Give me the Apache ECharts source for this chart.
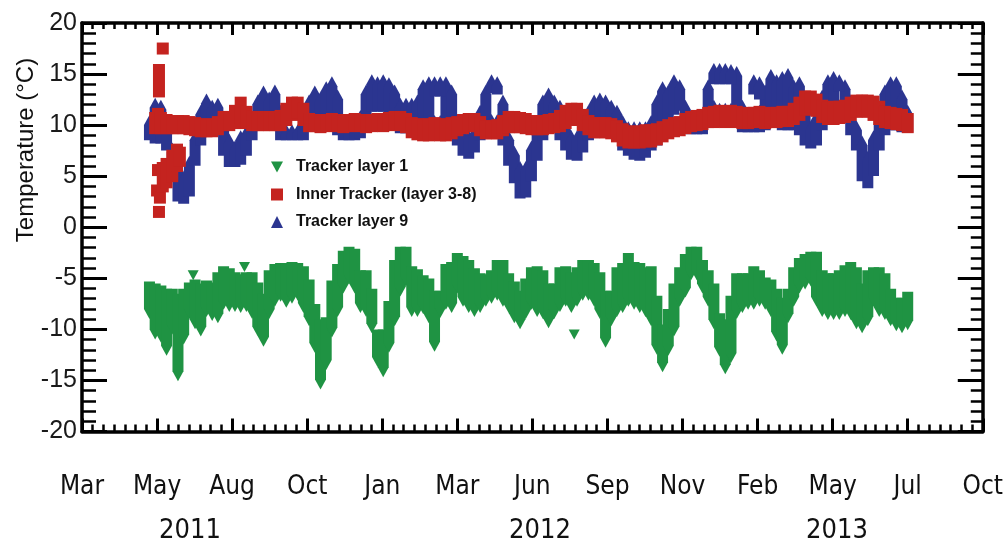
<!DOCTYPE html>
<html>
<head>
<meta charset="utf-8">
<script src="https://cdn.jsdelivr.net/npm/echarts@6/dist/echarts.min.js"></script>
<style>
  html, body { margin: 0; padding: 0; background: #ffffff; }
  #chart { width: 1006px; height: 543px; }
</style>
</head>
<body>
<div id="chart"></div>
<script>
// x axis: days since 2011-03-01, one labelled tick every 79 days
const tickLabels = ['Mar', 'May', 'Aug', 'Oct', 'Jan', 'Mar', 'Jun', 'Sep', 'Nov', 'Feb', 'May', 'Jul', 'Oct'];
const yearLabels = ['2011', '2012', '2013'];
const TICK_DAYS = 79;

// Each sample is the spread (lowest / highest reading) over a 6-day window
const SAMPLE_STEP = 6;

// Tracker layer 1 (°C), first window starts on day 71
const layer1Start = 71;
const layer1Low = [
  -8.5, -10.5, -10.8, -12.1, -10, -14.6, -11, -8.5, -9.5, -10.2,
  -8.3, -8.7, -8.9, -7.6, -7.8, -7.8, -7.9, -7.8, -8.5, -10.2,
  -11.2, -8.5, -7.3, -6.8, -7.4, -7.0, -6.7, -7.9, -9.2, -11.8,
  -15.4, -13.5, -10.3, -8.3, -6.0, -5.1, -6, -7.9, -8.3, -9.9,
  -13.2, -14.2, -11.8, -9.2, -6.3, -5.3, -8.3, -8.3, -8.0, -8.9,
  -11.7, -8.4, -7.6, -7.9, -6.0, -7.3, -7.9, -8.3, -7.9, -7.3,
  -7.0, -6.7, -7.3, -7.9, -8.9, -9.5, -8.5, -7.6, -8.3, -8.5,
  -9.4, -8.5, -7.8, -7.3, -7.9, -7.3, -6.7, -6.7, -7.3, -8.5,
  -11.3, -9.2, -8.3, -7.9, -7.3, -7.6, -7.9, -8.3, -9.2, -12,
  -13.7, -12.1, -10.2, -7.3, -6.4, -4.7, -4.7, -6, -7.3, -9.5,
  -12.2, -13.9, -12.8, -8.5, -7.9, -7.6, -7.6, -7.3, -7.6, -8.3,
  -10.7, -12, -8.9, -7.3, -6, -5.6, -5.3, -7.3, -8.3, -8.6,
  -8.6, -8.6, -8.3, -8.6, -9.5, -9.9, -9.2, -7.3, -8.3, -8.6,
  -9.2, -9.7, -9.9, -9.6
];
const layer1High = [
  -5.8, -6, -6.2, -6.5, -6.5, -7, -6.5, -5.9, -5.6, -6,
  -5.7, -5.9, -4.9, -4.3, -4.5, -4.9, -5.1, -4.9, -4.9, -5.9,
  -7, -4.7, -4.1, -4.0, -4.0, -3.9, -4.0, -4.3, -5.6, -8,
  -9.5, -9.3, -5.7, -4.1, -2.8, -2.4, -2.6, -4.7, -4.7, -6.5,
  -10.5, -10.5, -7.7, -3.7, -2.4, -2.4, -4.3, -4.6, -5.2, -5.5,
  -6.7, -6.7, -4.1, -3.9, -3.0, -3.3, -3.7, -4.5, -5, -5.1,
  -4.7, -3.7, -3.7, -5, -5.8, -6.7, -5.5, -4.4, -4.3, -4.7,
  -6, -6, -4.4, -4.3, -4.9, -4.4, -3.7, -3.7, -4, -4.9,
  -6.7, -6.7, -4.4, -4.0, -3.0, -3.9, -4, -4.4, -4.3, -7.2,
  -10, -8.5, -6, -4.4, -3.1, -2.4, -2.4, -3.7, -4.7, -6,
  -8.9, -9.5, -7.2, -5, -5, -5, -4.3, -4.7, -5.4, -5.6,
  -6.5, -7.4, -6.5, -4.4, -3.5, -3.1, -2.9, -2.9, -4.7, -5,
  -5, -4.7, -4.2, -3.9, -4.4, -6, -4.7, -4.4, -4.4, -5,
  -6.5, -7.4, -7.4, -6.8
];
// isolated single readings [day, °C]
const layer1Single = [[117, -4.7], [171, -3.9], [518, -10.5]];

// Tracker layer 9 (°C), first window starts on day 71
const layer9Start = 71;
const layer9Low = [
  9, 8.7, 8.7, 8, 5, 3, 2.8, 3.5, 6.5, 8.5,
  10, 10, 10.4, 7.5, 6.4, 6.4, 6.6, 7.5, 9, 10.5,
  11.2, 11.4, 11.4, 9.0, 9.0, 9.0, 9.0, 9.0, 10.5, 11.4,
  11.4, 11.6, 11.6, 9.5, 9.0, 9.0, 9.0, 9.2, 11, 11.8,
  11.8, 11.8, 11.6, 10, 9.7, 9.7, 9.7, 9.8, 10.5, 10.9,
  10.1, 10.1, 10.5, 10, 8.5, 7.5, 7.2, 7.8, 9, 9.5,
  9.5, 9.5, 8.5, 6.5, 4.8, 3.3, 3.4, 5, 7, 9,
  10.5, 10, 9, 8, 7.1, 7.0, 7.8, 9, 9.5, 10,
  10, 9.5, 9, 8, 7.5, 7.1, 7.0, 7.3, 8, 8.5,
  10.5, 11, 11.5, 11.9, 10, 9.6, 9.6, 9.6, 10.5, 11,
  11, 11, 11, 11, 9.8, 9.8, 9.8, 9.8, 10, 10.5,
  10.5, 10, 10, 10, 9.5, 8.5, 8.2, 8.5, 10, 11,
  11.5, 11, 11, 9.5, 8, 5, 4.3, 5.5, 8, 9.5,
  10, 10, 9.8, 9.8
];
const layer9High = [
  10.5, 12.2, 12, 9.8, 7.8, 6, 5, 6.5, 9, 11.5,
  12.6, 12, 12.2, 10.5, 8.7, 8, 9, 9.5, 10.5, 12.5,
  13.4, 12.8, 13.5, 11.5, 9.6, 9.6, 9.6, 10.5, 12.5, 13.4,
  12.8, 13.8, 14.3, 13, 10.5, 9.6, 9.7, 11, 13.5, 14.5,
  14.3, 14.5, 14.2, 13.5, 12.2, 12.2, 12.2, 12.5, 14, 14.3,
  10.5, 10.5, 14.3, 13.5, 10.5, 9.3, 9, 9.5, 11.5, 13.5,
  10.6, 10.6, 12.5, 9, 7.5, 6, 6, 8, 10.5, 12.5,
  13.2, 12.5, 12, 10, 9, 9, 10, 11.5, 12.5, 12.7,
  12.5, 12, 11.5, 10.5, 9.9, 9.9, 9.9, 9.9, 10.5, 12.5,
  13.8, 13.5, 14.5, 14, 12, 10.5, 10.5, 10.8, 14, 12,
  11.7, 11.7, 11.7, 15.3, 12, 10.5, 11, 11.5, 13.5, 15,
  14.5, 14.8, 15.1, 14, 14.3, 12, 10, 11, 13, 14.5,
  14.8, 11.5, 14, 12.5, 10, 8.5, 7, 9, 11.5, 13.5,
  14.3, 14.3, 13, 11.5
];
// windows where the readings split into a separate upper level [day, low, high]
const layer9Upper = [
  [371, 13.3, 14.3], [377, 13.3, 14.3], [431, 13.6, 14.5], [437, 13.5, 14.3],
  [665, 14.5, 15.6], [671, 14.5, 15.6], [677, 14.5, 15.6], [683, 14.5, 15.5],
  [707, 13.5, 14.5], [713, 13.0, 14.3], [797, 13.8, 14.5]
];

// Inner Tracker (layer 3-8) (°C), first window starts on day 77
const innerStart = 77;
const innerLow = [
  9.7, 9.7, 9.7, 9.7, 9.7, 9.7, 9.6, 9.5, 9.4, 9.4,
  9.4, 9.6, 10.0, 10.0, 10.2, 10.6, 10.2, 10.0, 10.0, 10.0,
  10.0, 10.0, 10.0, 10.5, 11.0, 11.2, 10.5, 9.9, 9.9, 9.8,
  9.9, 10.0, 9.9, 9.8, 9.9, 10.0, 9.9, 9.8, 9.9, 10.0,
  9.9, 10.0, 10.1, 10.0, 9.8, 9.3, 9.1, 9.0, 9.0, 9.1,
  9.0, 9.0, 9.2, 9.5, 9.7, 9.9, 9.9, 9.5, 9.2, 9.2,
  9.2, 9.5, 9.8, 9.8, 9.8, 9.7, 9.6, 9.6, 9.6, 9.7,
  9.8, 9.9, 10.2, 10.6, 10.5, 10.0, 9.6, 9.3, 9.3, 9.3,
  9.2, 8.9, 8.5, 8.3, 8.3, 8.3, 8.4, 8.4, 8.6, 8.9,
  9.2, 9.4, 9.5, 9.7, 9.9, 10.0, 10.1, 10.3, 10.3, 10.4,
  10.3, 10.4, 10.3, 10.2, 10.2, 10.3, 10.3, 10.2, 10.3, 10.3,
  10.4, 10.4, 10.6, 11.0, 11.5, 11.8, 11.4, 10.8, 10.6, 10.6,
  10.7, 10.8, 11.0, 11.3, 11.4, 11.3, 11.0, 10.6, 10.3, 10.2,
  10.1, 10.0, 9.8
];
const innerHigh = [
  10.7, 10.7, 10.5, 10.4, 10.4, 10.4, 10.3, 10.2, 10.1, 10.0,
  10.1, 10.3, 10.8, 10.8, 11.4, 12.2, 11.3, 10.8, 10.8, 10.7,
  10.8, 10.8, 10.9, 11.6, 12.2, 12.2, 11.6, 10.6, 10.5, 10.4,
  10.5, 10.6, 10.5, 10.4, 10.5, 10.6, 10.5, 10.4, 10.5, 10.6,
  10.5, 10.7, 10.8, 10.8, 10.6, 10.2, 10.1, 10.0, 10.1, 10.2,
  10.0, 10.1, 10.2, 10.3, 10.5, 10.6, 10.6, 10.3, 9.9, 9.9,
  10.0, 10.4, 10.8, 10.8, 10.7, 10.6, 10.4, 10.4, 10.4, 10.5,
  10.6, 10.9, 11.4, 11.6, 11.6, 11.0, 10.4, 10.2, 10.2, 10.2,
  10.1, 9.9, 9.6, 9.4, 9.3, 9.4, 9.5, 9.5, 9.6, 9.8,
  10.0, 10.2, 10.3, 10.6, 10.8, 10.9, 11.0, 11.2, 11.3, 11.4,
  11.3, 11.4, 11.3, 11.1, 11.2, 11.2, 11.3, 11.1, 11.2, 11.2,
  11.3, 11.3, 11.6, 12.2, 12.8, 12.8, 12.5, 11.9, 11.7, 11.8,
  11.8, 11.9, 12.2, 12.4, 12.4, 12.4, 12.3, 11.8, 11.3, 11.2,
  11.1, 11.0, 10.6
];
// first days after switch-on [day, low, high]
const innerSwitchOn = [
  [81, 13.3, 15.4], [85, 17.5, 17.5], [80, 11.1, 11.1], [80, 5.6, 5.6],
  [79, 3.6, 3.6], [82, 2.9, 2.9], [81, 1.5, 1.5], [85, 4.0, 5.8],
  [89, 4.4, 6.2], [95, 5.0, 7.0], [100, 6.0, 7.6], [103, 6.5, 7.3]
];

function windows(start, low, high) {
  return low.map((lo, i) => [start + i * SAMPLE_STEP, lo, high[i]]);
}

const TRI_W = 11;
const TRI_H = 10;
const SQUARE = 12;
const DOWN_TRIANGLE = 'path://M0,0L10,0L5,9Z';
const NARROW = '"Liberation Sans Narrow", "DejaVu Sans Condensed", "Arial Narrow", sans-serif';
const SANS = '"Liberation Sans", Arial, Helvetica, sans-serif';

// A window is drawn as the union of its marker symbols stacked from low to high
function markerStack(shape) {
  return function (params, api) {
    const day = api.value(0);
    const x = api.coord([day, 0])[0];
    const yHi = api.coord([day, api.value(2)])[1];
    const yLo = api.coord([day, api.value(1)])[1];
    let pts;
    if (shape === 'down') {
      const w = TRI_W / 2, h = TRI_H / 2;
      pts = [[x - w, yHi - h], [x + w, yHi - h], [x + w, yLo - h], [x, yLo + h], [x - w, yLo - h]];
    } else if (shape === 'up') {
      const w = TRI_W / 2, h = TRI_H / 2;
      pts = [[x, yHi - h], [x + w, yHi + h], [x + w, yLo + h], [x - w, yLo + h], [x - w, yHi + h]];
    } else {
      const s = SQUARE / 2;
      pts = [[x - s, yHi - s], [x + s, yHi - s], [x + s, yLo + s], [x - s, yLo + s]];
    }
    return { type: 'polygon', shape: { points: pts }, style: { fill: api.visual('color') } };
  };
}

const frameLine = { show: true, onZero: false, lineStyle: { color: '#000', width: 3.5 } };

function xAxisDef(position, majorLen, minorLen, showLabels) {
  return {
    type: 'value', position: position, min: 0, max: TICK_DAYS * 12, interval: TICK_DAYS,
    axisLine: frameLine,
    axisTick: { show: true, inside: true, length: majorLen, lineStyle: { color: '#000', width: 3 } },
    minorTick: { show: true, splitNumber: 7, length: minorLen, lineStyle: { color: '#000', width: 2.5 } },
    splitLine: { show: false },
    minorSplitLine: { show: false },
    axisLabel: {
      show: showLabels, margin: 43, fontSize: 26, fontFamily: NARROW, color: '#111',
      formatter: v => tickLabels[Math.round(v / TICK_DAYS)]
    }
  };
}

function yAxisDef(position, minorLen, showLabels) {
  return {
    type: 'value', position: position, min: -20, max: 20, interval: 5,
    axisLine: frameLine,
    axisTick: { show: true, inside: true, length: 25, lineStyle: { color: '#000', width: 3 } },
    minorTick: { show: true, splitNumber: 5, length: minorLen, lineStyle: { color: '#000', width: 2.5 } },
    splitLine: { show: false },
    minorSplitLine: { show: false },
    axisLabel: { show: showLabels, margin: 5, fontSize: 25, fontFamily: SANS, color: '#1a1a1a' }
  };
}

const chart = echarts.init(document.getElementById('chart'), null, { renderer: 'canvas' });

chart.setOption({
  animation: false,
  backgroundColor: '#ffffff',
  grid: { left: 82, right: 22, top: 23, bottom: 111.5 },
  xAxis: [
    xAxisDef('bottom', 13, 7, true),
    xAxisDef('top', 12, 6, false)
  ],
  yAxis: [
    yAxisDef('left', 14, true),
    yAxisDef('right', 12, false)
  ],
  legend: {
    orient: 'vertical', left: 266, top: 154,
    itemWidth: 12, itemHeight: 12, itemGap: 11.5,
    selectedMode: false,
    textStyle: { fontSize: 16, fontWeight: 'bold', fontFamily: SANS, color: '#111', padding: [0, 0, 0, 8] },
    data: [
      { name: 'Tracker layer 1', icon: DOWN_TRIANGLE },
      { name: 'Inner Tracker (layer 3-8)', icon: 'rect' },
      { name: 'Tracker layer 9', icon: 'triangle' }
    ]
  },
  series: [
    {
      name: 'Tracker layer 1', type: 'custom', renderItem: markerStack('down'),
      itemStyle: { color: '#1f9343' }, encode: { x: 0, y: [1, 2] },
      data: windows(layer1Start, layer1Low, layer1High)
        .concat(layer1Single.map(([d, t]) => [d, t, t])),
      z: 2
    },
    {
      name: 'Tracker layer 9', type: 'custom', renderItem: markerStack('up'),
      itemStyle: { color: '#2b3590' }, encode: { x: 0, y: [1, 2] },
      data: windows(layer9Start, layer9Low, layer9High).concat(layer9Upper),
      z: 2
    },
    {
      name: 'Inner Tracker (layer 3-8)', type: 'custom', renderItem: markerStack('square'),
      itemStyle: { color: '#c4231f' }, encode: { x: 0, y: [1, 2] },
      data: innerSwitchOn.concat(windows(innerStart, innerLow, innerHigh)),
      z: 3
    }
  ],
  graphic: [
    {
      type: 'text', x: 26, y: 150, rotation: Math.PI / 2,
      style: { text: 'Temperature (°C)', font: '24px ' + SANS, fill: '#111',
               align: 'center', verticalAlign: 'middle', textAlign: 'center', textVerticalAlign: 'middle' }
    },
    ...yearLabels.map((label, i) => ({
      type: 'text', x: [190, 540, 837][i], y: 531,
      style: { text: label, font: '27px ' + NARROW, fill: '#111',
               align: 'center', verticalAlign: 'middle', textAlign: 'center', textVerticalAlign: 'middle' }
    }))
  ]
});
</script>
</body>
</html>
